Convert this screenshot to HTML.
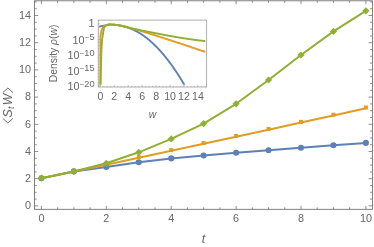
<!DOCTYPE html>
<html><head><meta charset="utf-8"><title>chart</title>
<style>html,body{margin:0;padding:0;background:#fff}body{width:374px;height:247px;overflow:hidden;font-family:"Liberation Sans",sans-serif}</style></head>
<body>
<svg width="374" height="247" viewBox="0 0 374 247" style="display:block;will-change:transform;opacity:0.999">
<rect width="374" height="247" fill="#fff"/>
<g stroke="#6a6a6a" stroke-width="0.85" fill="none">
<rect x="34.4" y="0.8" width="338.0" height="208.5"/>
<path d="M41.40 209.3v-3.4M41.40 0.8v3.4M57.62 209.3v-2.0M57.62 0.8v2.0M73.85 209.3v-2.0M73.85 0.8v2.0M90.08 209.3v-2.0M90.08 0.8v2.0M106.30 209.3v-3.4M106.30 0.8v3.4M122.53 209.3v-2.0M122.53 0.8v2.0M138.75 209.3v-2.0M138.75 0.8v2.0M154.98 209.3v-2.0M154.98 0.8v2.0M171.20 209.3v-3.4M171.20 0.8v3.4M187.43 209.3v-2.0M187.43 0.8v2.0M203.65 209.3v-2.0M203.65 0.8v2.0M219.88 209.3v-2.0M219.88 0.8v2.0M236.10 209.3v-3.4M236.10 0.8v3.4M252.33 209.3v-2.0M252.33 0.8v2.0M268.55 209.3v-2.0M268.55 0.8v2.0M284.78 209.3v-2.0M284.78 0.8v2.0M301.00 209.3v-3.4M301.00 0.8v3.4M317.23 209.3v-2.0M317.23 0.8v2.0M333.45 209.3v-2.0M333.45 0.8v2.0M349.68 209.3v-2.0M349.68 0.8v2.0M365.90 209.3v-3.4M365.90 0.8v3.4M34.4 205.90h3.8M372.4 205.90h-3.8M34.4 199.10h2.3M372.4 199.10h-2.3M34.4 192.30h2.3M372.4 192.30h-2.3M34.4 185.50h2.3M372.4 185.50h-2.3M34.4 178.70h3.8M372.4 178.70h-3.8M34.4 171.90h2.3M372.4 171.90h-2.3M34.4 165.10h2.3M372.4 165.10h-2.3M34.4 158.30h2.3M372.4 158.30h-2.3M34.4 151.50h3.8M372.4 151.50h-3.8M34.4 144.70h2.3M372.4 144.70h-2.3M34.4 137.90h2.3M372.4 137.90h-2.3M34.4 131.10h2.3M372.4 131.10h-2.3M34.4 124.30h3.8M372.4 124.30h-3.8M34.4 117.50h2.3M372.4 117.50h-2.3M34.4 110.70h2.3M372.4 110.70h-2.3M34.4 103.90h2.3M372.4 103.90h-2.3M34.4 97.10h3.8M372.4 97.10h-3.8M34.4 90.30h2.3M372.4 90.30h-2.3M34.4 83.50h2.3M372.4 83.50h-2.3M34.4 76.70h2.3M372.4 76.70h-2.3M34.4 69.90h3.8M372.4 69.90h-3.8M34.4 63.10h2.3M372.4 63.10h-2.3M34.4 56.30h2.3M372.4 56.30h-2.3M34.4 49.50h2.3M372.4 49.50h-2.3M34.4 42.70h3.8M372.4 42.70h-3.8M34.4 35.90h2.3M372.4 35.90h-2.3M34.4 29.10h2.3M372.4 29.10h-2.3M34.4 22.30h2.3M372.4 22.30h-2.3M34.4 15.50h3.8M372.4 15.50h-3.8M34.4 8.70h2.3M372.4 8.70h-2.3M34.4 1.90h2.3M372.4 1.90h-2.3" stroke-width="0.75"/>
</g>
<g font-family="Liberation Sans, sans-serif" font-size="10.8" fill="#666666">
<text x="41.4" y="221.7" text-anchor="middle">0</text>
<text x="106.3" y="221.7" text-anchor="middle">2</text>
<text x="171.2" y="221.7" text-anchor="middle">4</text>
<text x="236.1" y="221.7" text-anchor="middle">6</text>
<text x="301.0" y="221.7" text-anchor="middle">8</text>
<text x="365.9" y="221.7" text-anchor="middle">10</text>
<text x="31" y="209.1" text-anchor="end">0</text>
<text x="31" y="181.9" text-anchor="end">2</text>
<text x="31" y="154.7" text-anchor="end">4</text>
<text x="31" y="127.5" text-anchor="end">6</text>
<text x="31" y="100.3" text-anchor="end">8</text>
<text x="31" y="73.1" text-anchor="end">10</text>
<text x="31" y="45.9" text-anchor="end">12</text>
<text x="31" y="18.7" text-anchor="end">14</text>
<text x="203.6" y="242.5" text-anchor="middle" font-style="italic" font-size="12.5">t</text>
<g transform="translate(12.3,105.5) rotate(-90)" font-size="12.2"><path d="M-12.9 -9.5L-17.5 -4.4L-12.9 0.7M12.9 -9.5L17.5 -4.4L12.9 0.7" fill="none" stroke="#666666" stroke-width="0.95"/><text x="-12.1" y="0" font-style="italic">S</text><text x="-3.4" y="1.4" font-style="italic" font-size="8.6">t</text><text x="0.3" y="0" font-style="italic">W</text></g>
</g>
<polyline points="41.40,178.20 73.85,171.40 106.30,167.00 138.75,162.20 171.20,158.40 203.65,155.50 236.10,152.80 268.55,150.30 301.00,147.80 333.45,145.30 365.90,142.90" fill="none" stroke="#5E81B5" stroke-width="2.0" stroke-linejoin="round"/>
<circle cx="41.40" cy="178.20" r="3.05" fill="#5E81B5"/>
<circle cx="73.85" cy="171.40" r="3.05" fill="#5E81B5"/>
<circle cx="106.30" cy="167.00" r="3.05" fill="#5E81B5"/>
<circle cx="138.75" cy="162.20" r="3.05" fill="#5E81B5"/>
<circle cx="171.20" cy="158.40" r="3.05" fill="#5E81B5"/>
<circle cx="203.65" cy="155.50" r="3.05" fill="#5E81B5"/>
<circle cx="236.10" cy="152.80" r="3.05" fill="#5E81B5"/>
<circle cx="268.55" cy="150.30" r="3.05" fill="#5E81B5"/>
<circle cx="301.00" cy="147.80" r="3.05" fill="#5E81B5"/>
<circle cx="333.45" cy="145.30" r="3.05" fill="#5E81B5"/>
<circle cx="365.90" cy="142.90" r="3.05" fill="#5E81B5"/>
<polyline points="41.40,178.20 73.85,171.50 106.30,164.70 138.75,157.80 171.20,150.80 203.65,143.80 236.10,136.70 268.55,129.70 301.00,122.60 333.45,115.40 365.90,108.20" fill="none" stroke="#E19C24" stroke-width="2.0" stroke-linejoin="round"/>
<rect x="39.40" y="175.50" width="4.0" height="4.0" fill="#E19C24"/>
<rect x="71.85" y="168.80" width="4.0" height="4.0" fill="#E19C24"/>
<rect x="104.30" y="162.00" width="4.0" height="4.0" fill="#E19C24"/>
<rect x="136.75" y="155.10" width="4.0" height="4.0" fill="#E19C24"/>
<rect x="169.20" y="148.10" width="4.0" height="4.0" fill="#E19C24"/>
<rect x="201.65" y="141.10" width="4.0" height="4.0" fill="#E19C24"/>
<rect x="234.10" y="134.00" width="4.0" height="4.0" fill="#E19C24"/>
<rect x="266.55" y="127.00" width="4.0" height="4.0" fill="#E19C24"/>
<rect x="299.00" y="119.90" width="4.0" height="4.0" fill="#E19C24"/>
<rect x="331.45" y="112.70" width="4.0" height="4.0" fill="#E19C24"/>
<rect x="363.90" y="105.50" width="4.0" height="4.0" fill="#E19C24"/>
<polyline points="41.40,178.20 73.85,171.40 106.30,163.30 138.75,152.30 171.20,138.90 203.65,123.60 236.10,103.80 268.55,80.00 301.00,55.00 333.45,31.40 365.90,10.80" fill="none" stroke="#8FB032" stroke-width="2.0" stroke-linejoin="round"/>
<path d="M41.40 174.60L45.00 178.20L41.40 181.80L37.80 178.20Z" fill="#8FB032"/>
<path d="M73.85 167.80L77.45 171.40L73.85 175.00L70.25 171.40Z" fill="#8FB032"/>
<path d="M106.30 159.70L109.90 163.30L106.30 166.90L102.70 163.30Z" fill="#8FB032"/>
<path d="M138.75 148.70L142.35 152.30L138.75 155.90L135.15 152.30Z" fill="#8FB032"/>
<path d="M171.20 135.30L174.80 138.90L171.20 142.50L167.60 138.90Z" fill="#8FB032"/>
<path d="M203.65 120.00L207.25 123.60L203.65 127.20L200.05 123.60Z" fill="#8FB032"/>
<path d="M236.10 100.20L239.70 103.80L236.10 107.40L232.50 103.80Z" fill="#8FB032"/>
<path d="M268.55 76.40L272.15 80.00L268.55 83.60L264.95 80.00Z" fill="#8FB032"/>
<path d="M301.00 51.40L304.60 55.00L301.00 58.60L297.40 55.00Z" fill="#8FB032"/>
<path d="M333.45 27.80L337.05 31.40L333.45 35.00L329.85 31.40Z" fill="#8FB032"/>
<path d="M365.90 7.20L369.50 10.80L365.90 14.40L362.30 10.80Z" fill="#8FB032"/>
<rect x="98.2" y="20.1" width="108.49999999999999" height="66.9" fill="#fff" stroke="#8c8c8c" stroke-width="0.7"/>
<path d="M100.30 87.0v-2.0M103.78 87.0v-1.1M107.27 87.0v-1.1M110.75 87.0v-1.1M114.24 87.0v-2.0M117.72 87.0v-1.1M121.21 87.0v-1.1M124.69 87.0v-1.1M128.18 87.0v-2.0M131.66 87.0v-1.1M135.15 87.0v-1.1M138.63 87.0v-1.1M142.12 87.0v-2.0M145.60 87.0v-1.1M149.09 87.0v-1.1M152.57 87.0v-1.1M156.06 87.0v-2.0M159.54 87.0v-1.1M163.03 87.0v-1.1M166.51 87.0v-1.1M170.00 87.0v-2.0M173.49 87.0v-1.1M176.97 87.0v-1.1M180.45 87.0v-1.1M183.94 87.0v-2.0M187.43 87.0v-1.1M190.91 87.0v-1.1M194.39 87.0v-1.1M197.88 87.0v-2.0M201.37 87.0v-1.1M204.85 87.0v-1.1M98.2 23.90h1.9M98.2 27.00h1.1M98.2 30.10h1.1M98.2 33.20h1.1M98.2 36.30h1.1M98.2 39.40h1.9M98.2 42.50h1.1M98.2 45.60h1.1M98.2 48.70h1.1M98.2 51.80h1.1M98.2 54.90h1.9M98.2 58.00h1.1M98.2 61.10h1.1M98.2 64.20h1.1M98.2 67.30h1.1M98.2 70.40h1.9M98.2 73.50h1.1M98.2 76.60h1.1M98.2 79.70h1.1M98.2 82.80h1.1M98.2 85.90h1.9" stroke="#8c8c8c" stroke-width="0.55" fill="none"/>
<clipPath id="ic"><rect x="98.2" y="20.1" width="108.49999999999999" height="64.60"/></clipPath><g clip-path="url(#ic)">
<polyline points="99.20,26.60 99.74,26.50 100.29,26.39 100.83,26.28 101.37,26.14 101.91,26.02 102.46,25.92 103.00,25.85 103.54,25.77 104.08,25.68 104.63,25.57 105.17,25.44 105.71,25.31 106.26,25.17 106.80,25.05 107.34,24.94 107.88,24.84 108.43,24.74 108.97,24.66 109.51,24.61 110.06,24.60 110.60,24.61 111.14,24.62 111.68,24.64 112.23,24.66 112.77,24.68 113.31,24.71 113.85,24.75 114.40,24.78 114.94,24.82 115.48,24.86 116.03,24.90 116.57,24.95 117.11,25.02 117.65,25.11 118.20,25.20 118.74,25.30 119.28,25.41 119.83,25.52 120.37,25.63 120.91,25.74 121.45,25.86 122.00,25.97 122.54,26.10 123.08,26.23 123.62,26.36 124.17,26.50 124.71,26.64 125.25,26.79 125.80,26.94 126.34,27.10 126.88,27.26 127.42,27.43 127.97,27.61 128.51,27.79 129.05,27.98 129.59,28.18 130.14,28.38 130.68,28.59 131.22,28.80 131.77,29.03 132.31,29.26 132.85,29.50 133.39,29.75 133.94,30.01 134.48,30.28 135.02,30.55 135.57,30.83 136.11,31.11 136.65,31.40 137.19,31.70 137.74,32.00 138.28,32.32 138.82,32.64 139.36,32.97 139.91,33.30 140.45,33.64 140.99,33.99 141.54,34.34 142.08,34.70 142.62,35.07 143.16,35.45 143.71,35.83 144.25,36.22 144.79,36.62 145.34,37.03 145.88,37.44 146.42,37.86 146.96,38.28 147.51,38.71 148.05,39.14 148.59,39.59 149.13,40.04 149.68,40.50 150.22,40.97 150.76,41.45 151.31,41.94 151.85,42.43 152.39,42.92 152.93,43.43 153.48,43.94 154.02,44.45 154.56,44.98 155.11,45.51 155.65,46.04 156.19,46.59 156.73,47.14 157.28,47.70 157.82,48.27 158.36,48.84 158.90,49.43 159.45,50.01 159.99,50.61 160.53,51.21 161.08,51.82 161.62,52.44 162.16,53.06 162.70,53.69 163.25,54.33 163.79,54.98 164.33,55.63 164.87,56.30 165.42,56.96 165.96,57.64 166.50,58.32 167.05,59.01 167.59,59.70 168.13,60.41 168.67,61.12 169.22,61.84 169.76,62.56 170.30,63.30 170.85,64.04 171.39,64.79 171.93,65.54 172.47,66.30 173.02,67.07 173.56,67.84 174.10,68.63 174.64,69.42 175.19,70.22 175.73,71.02 176.27,71.84 176.82,72.66 177.36,73.48 177.90,74.32 178.44,75.16 178.99,76.01 179.53,76.87 180.07,77.73 180.62,78.61 181.16,79.49 181.70,80.37 182.24,81.27 182.79,82.17 183.33,83.07 183.87,83.98 184.41,84.90 184.96,85.83 185.50,86.77" fill="none" stroke="#5E81B5" stroke-width="1.9" stroke-linejoin="round" stroke-linecap="butt"/>
<polyline points="100.30,86.90 100.40,40.00 100.50,36.00 101.15,32.00 102.00,29.00 102.65,27.93 103.30,27.04 103.95,26.26 104.60,25.88 105.25,25.70 105.90,25.48 106.55,25.18 107.20,24.92 107.85,24.79 108.50,24.67 109.15,24.58 109.80,24.55 110.45,24.56 111.10,24.57 111.75,24.60 112.39,24.63 113.04,24.67 113.69,24.71 114.34,24.76 114.99,24.82 115.64,24.87 116.29,24.93 116.94,25.00 117.59,25.08 118.24,25.17 118.89,25.28 119.54,25.39 120.19,25.51 120.84,25.63 121.49,25.76 122.14,25.90 122.79,26.06 123.44,26.23 124.09,26.40 124.74,26.57 125.39,26.74 126.04,26.91 126.69,27.07 127.34,27.24 127.99,27.40 128.64,27.57 129.29,27.74 129.94,27.91 130.59,28.08 131.24,28.26 131.89,28.43 132.54,28.61 133.18,28.80 133.83,28.98 134.48,29.17 135.13,29.36 135.78,29.55 136.43,29.74 137.08,29.93 137.73,30.12 138.38,30.32 139.03,30.51 139.68,30.71 140.33,30.90 140.98,31.09 141.63,31.29 142.28,31.48 142.93,31.68 143.58,31.87 144.23,32.07 144.88,32.26 145.53,32.46 146.18,32.66 146.83,32.85 147.48,33.05 148.13,33.25 148.78,33.45 149.43,33.65 150.08,33.85 150.73,34.05 151.38,34.25 152.03,34.45 152.68,34.65 153.33,34.85 153.97,35.05 154.62,35.25 155.27,35.46 155.92,35.66 156.57,35.86 157.22,36.07 157.87,36.27 158.52,36.48 159.17,36.68 159.82,36.89 160.47,37.09 161.12,37.30 161.77,37.50 162.42,37.71 163.07,37.92 163.72,38.13 164.37,38.33 165.02,38.54 165.67,38.75 166.32,38.96 166.97,39.17 167.62,39.38 168.27,39.59 168.92,39.80 169.57,40.01 170.22,40.22 170.87,40.43 171.52,40.64 172.17,40.85 172.82,41.06 173.47,41.28 174.12,41.49 174.76,41.70 175.41,41.92 176.06,42.13 176.71,42.34 177.36,42.56 178.01,42.77 178.66,42.98 179.31,43.20 179.96,43.41 180.61,43.63 181.26,43.84 181.91,44.06 182.56,44.27 183.21,44.49 183.86,44.71 184.51,44.92 185.16,45.14 185.81,45.36 186.46,45.57 187.11,45.79 187.76,46.01 188.41,46.23 189.06,46.44 189.71,46.66 190.36,46.88 191.01,47.10 191.66,47.32 192.31,47.54 192.96,47.75 193.61,47.97 194.26,48.19 194.91,48.41 195.55,48.63 196.20,48.85 196.85,49.07 197.50,49.29 198.15,49.51 198.80,49.73 199.45,49.95 200.10,50.17 200.75,50.39 201.40,50.61 202.05,50.83 202.70,51.05 203.35,51.27 204.00,51.49 204.65,51.72 205.30,51.94" fill="none" stroke="#E19C24" stroke-width="1.9" stroke-linejoin="round" stroke-linecap="butt"/>
<polyline points="100.50,86.90 100.90,70.00 101.40,50.00 102.10,40.00 102.60,36.00 103.25,32.00 103.89,28.25 104.53,26.82 105.18,26.05 105.82,25.55 106.46,25.17 107.10,24.90 107.74,24.75 108.38,24.63 109.03,24.54 109.67,24.50 110.31,24.50 110.95,24.52 111.59,24.55 112.24,24.58 112.88,24.63 113.52,24.68 114.16,24.73 114.80,24.79 115.44,24.85 116.09,24.91 116.73,24.98 117.37,25.05 118.01,25.14 118.65,25.24 119.30,25.35 119.94,25.46 120.58,25.58 121.22,25.70 121.86,25.84 122.50,25.99 123.15,26.15 123.79,26.32 124.43,26.49 125.07,26.66 125.71,26.83 126.36,26.99 127.00,27.15 127.64,27.32 128.28,27.49 128.92,27.65 129.56,27.82 130.21,27.98 130.85,28.14 131.49,28.29 132.13,28.44 132.77,28.58 133.42,28.72 134.06,28.86 134.70,29.00 135.34,29.13 135.98,29.27 136.62,29.40 137.27,29.53 137.91,29.66 138.55,29.79 139.19,29.92 139.83,30.05 140.48,30.18 141.12,30.31 141.76,30.44 142.40,30.57 143.04,30.71 143.68,30.84 144.33,30.97 144.97,31.10 145.61,31.24 146.25,31.37 146.89,31.50 147.54,31.63 148.18,31.76 148.82,31.89 149.46,32.02 150.10,32.15 150.74,32.28 151.39,32.41 152.03,32.54 152.67,32.67 153.31,32.80 153.95,32.92 154.60,33.05 155.24,33.18 155.88,33.30 156.52,33.43 157.16,33.55 157.81,33.68 158.45,33.80 159.09,33.93 159.73,34.05 160.37,34.17 161.01,34.30 161.66,34.42 162.30,34.54 162.94,34.66 163.58,34.78 164.22,34.91 164.87,35.02 165.51,35.14 166.15,35.26 166.79,35.38 167.43,35.50 168.07,35.61 168.72,35.73 169.36,35.84 170.00,35.96 170.64,36.07 171.28,36.19 171.93,36.30 172.57,36.41 173.21,36.52 173.85,36.64 174.49,36.75 175.13,36.86 175.78,36.97 176.42,37.07 177.06,37.18 177.70,37.29 178.34,37.39 178.99,37.50 179.63,37.60 180.27,37.71 180.91,37.81 181.55,37.91 182.19,38.02 182.84,38.12 183.48,38.22 184.12,38.32 184.76,38.41 185.40,38.51 186.05,38.61 186.69,38.70 187.33,38.80 187.97,38.89 188.61,38.99 189.25,39.08 189.90,39.17 190.54,39.26 191.18,39.35 191.82,39.44 192.46,39.52 193.11,39.61 193.75,39.69 194.39,39.78 195.03,39.86 195.67,39.94 196.31,40.02 196.96,40.11 197.60,40.19 198.24,40.27 198.88,40.34 199.52,40.42 200.17,40.50 200.81,40.57 201.45,40.65 202.09,40.72 202.73,40.80 203.37,40.87 204.02,40.93 204.66,41.00 205.30,41.07" fill="none" stroke="#8FB032" stroke-width="1.9" stroke-linejoin="round" stroke-linecap="butt"/>
</g>
<g font-family="Liberation Sans, sans-serif" font-size="10.6" fill="#666666">
<text x="100.4" y="100.3" text-anchor="middle">0</text>
<text x="114.3" y="100.3" text-anchor="middle">2</text>
<text x="128.3" y="100.3" text-anchor="middle">4</text>
<text x="142.2" y="100.3" text-anchor="middle">6</text>
<text x="156.2" y="100.3" text-anchor="middle">8</text>
<text x="170.1" y="100.3" text-anchor="middle">10</text>
<text x="184.0" y="100.3" text-anchor="middle">12</text>
<text x="198.0" y="100.3" text-anchor="middle">14</text>
<text x="94.6" y="27.3" text-anchor="end" font-size="11">1</text>
<text x="94.6" y="43.8" text-anchor="end" font-size="10.8">10<tspan font-size="7.5" dy="-3.6" dx="0.3">−</tspan><tspan font-size="9.2" dx="0.2">5</tspan></text>
<text x="94.6" y="59.3" text-anchor="end" font-size="10.8">10<tspan font-size="7.5" dy="-3.6" dx="0.3">−</tspan><tspan font-size="9.2" dx="0.2">10</tspan></text>
<text x="94.6" y="74.8" text-anchor="end" font-size="10.8">10<tspan font-size="7.5" dy="-3.6" dx="0.3">−</tspan><tspan font-size="9.2" dx="0.2">15</tspan></text>
<text x="94.6" y="90.3" text-anchor="end" font-size="10.8">10<tspan font-size="7.5" dy="-3.6" dx="0.3">−</tspan><tspan font-size="9.2" dx="0.2">20</tspan></text>
<text x="152.4" y="118" text-anchor="middle" font-style="italic" font-size="10.4">w</text>
<text transform="translate(57.1,53.4) rotate(-90)" text-anchor="middle" font-size="10.35">Density <tspan font-style="italic">ρ</tspan>(<tspan font-style="italic">w</tspan>)</text>
</g>
</svg>
</body></html>
